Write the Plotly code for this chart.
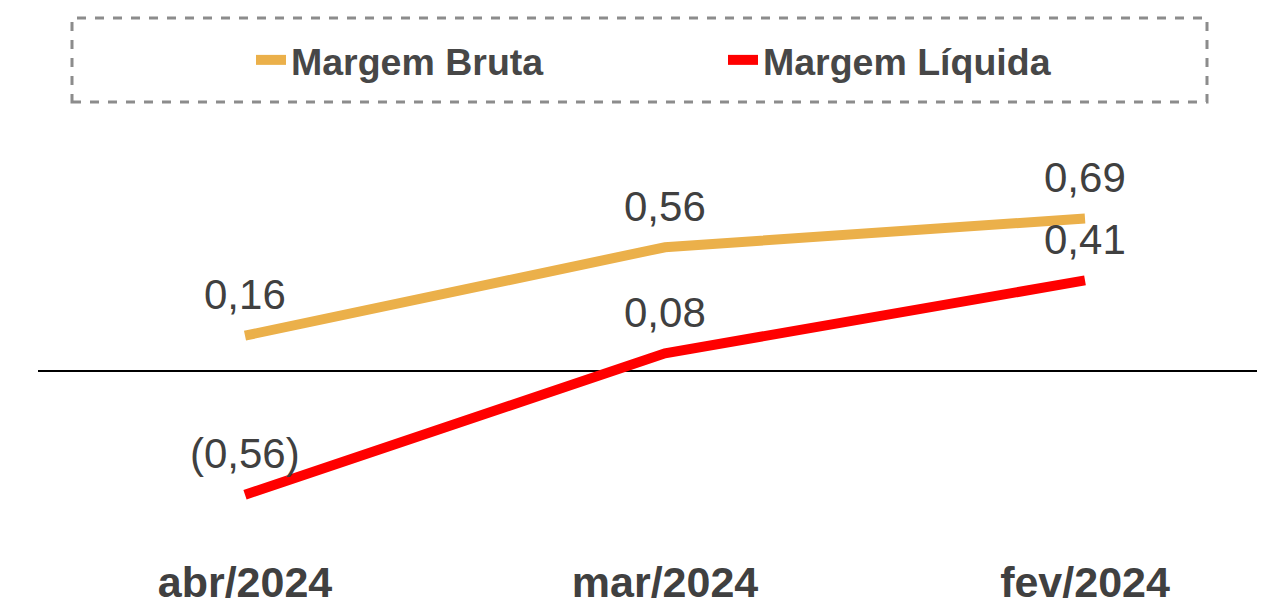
import plotly.graph_objects as go

categories = ["abr/2024", "mar/2024", "fev/2024"]
margem_bruta = [0.16, 0.56, 0.69]
margem_liquida = [-0.56, 0.08, 0.41]
labels_bruta = ["0,16", "0,56", "0,69"]
labels_liquida = ["(0,56)", "0,08", "0,41"]

# page body has an 8px margin; figure sized to fit the window exactly
W, H = 1249, 600
L, R, T, B = 30, 0, 122, 53
plot_w = W - L - R
plot_h = H - T - B

def px_x(p):
    return (p - L) / plot_w

def px_y(p):
    return (H - B - p) / plot_h

FONT = "Liberation Sans, Arial"

fig = go.Figure()
fig.add_trace(go.Scatter(x=categories, y=margem_bruta, mode="lines", name="Margem Bruta",
                         line=dict(color="#EBB04A", width=10)))
fig.add_trace(go.Scatter(x=categories, y=margem_liquida, mode="lines", name="Margem Líquida",
                         line=dict(color="#FF0000", width=10)))

for xs, ys, ls in [(categories, margem_bruta, labels_bruta), (categories, margem_liquida, labels_liquida)]:
    for xv, yv, lv in zip(xs, ys, ls):
        fig.add_annotation(x=xv, y=yv, text=lv, showarrow=False, yshift=41, yanchor="middle",
                           xanchor="center",
                           font=dict(family=FONT, size=42, color="#404040"))

fig.add_shape(type="rect", xref="paper", yref="paper",
              x0=px_x(64), x1=px_x(1199), y0=px_y(94), y1=px_y(10),
              line=dict(color="#8C8C8C", width=3, dash="dash"), fillcolor="rgba(0,0,0,0)", layer="above")

fig.update_layout(
    width=W, height=H,
    margin=dict(l=L, r=R, t=T, b=B, autoexpand=False),
    paper_bgcolor="white", plot_bgcolor="white",
    showlegend=True,
    legend=dict(orientation="h", xanchor="center", x=px_x(715), yanchor="middle", y=px_y(52),
                font=dict(family=FONT, size=37.5, color="#474747", weight="bold"),
                entrywidth=427, bgcolor="rgba(0,0,0,0)"),
    xaxis=dict(range=[(L - 237) / 420, (W - 237) / 420], showgrid=False, zeroline=False,
               showline=False, ticks="", ticklabelstandoff=-2, automargin=False,
               tickfont=dict(family=FONT, size=43, color="#404040", weight="bold")),
    yaxis=dict(range=[-(547 - 363) / 221, (363 - 122) / 221], showgrid=False, zeroline=True,
               automargin=False,
               zerolinecolor="black", zerolinewidth=1.5, showticklabels=False, ticks=""),
)

fig.write_html("out.html")
